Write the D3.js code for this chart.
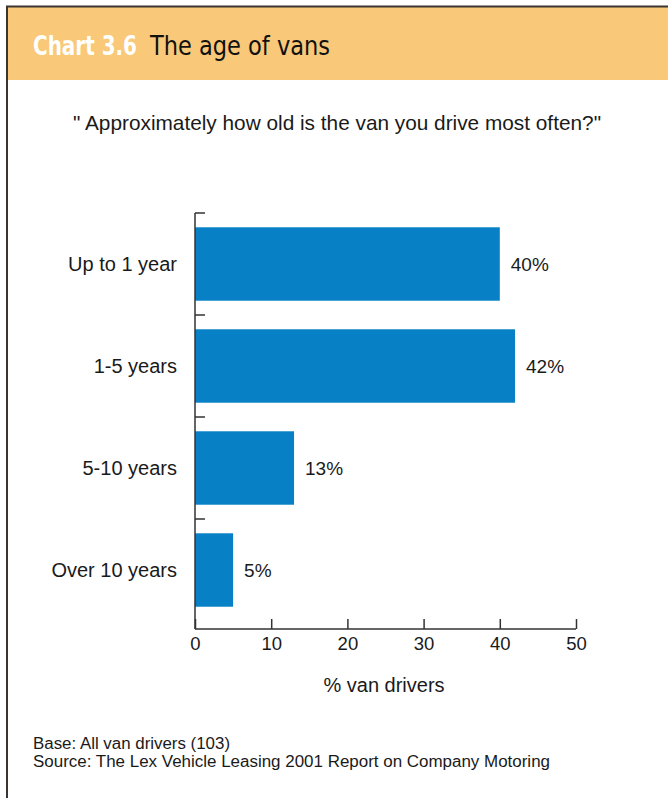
<!DOCTYPE html>
<html>
<head>
<meta charset="utf-8">
<script src="https://cdn.jsdelivr.net/npm/d3@7"></script>
<style>
  html, body { margin: 0; padding: 0; background: #ffffff; }
  svg { display: block; }
</style>
</head>
<body>
<svg id="chart" width="668" height="798"></svg>
<script>
// Survey data: age of the van driven most often
const categories = ["Up to 1 year", "1-5 years", "5-10 years", "Over 10 years"];
const values = [40, 42, 13, 5];
const xTicks = [0, 10, 20, 30, 40, 50];

const titleNumber = "Chart 3.6";
const titleText = "The age of vans";
const question = "\" Approximately how old is the van you drive most often?\"";
const axisTitle = "% van drivers";
const notes = [
  "Base: All van drivers (103)",
  "Source: The Lex Vehicle Leasing 2001 Report on Company Motoring"
];
const noteWidths = [197, 517];

const svg = d3.select("#chart");
const bodyFont = "'Liberation Sans', Arial, sans-serif";
const narrowFont = "'DejaVu Sans Condensed', 'Liberation Sans', sans-serif";
const ink = "#1a1a1a";

// Frame: header band with dark top and left rules
svg.append("rect").attr("x", 7).attr("y", 7).attr("width", 661).attr("height", 73).attr("fill", "#f9c878");
svg.append("line").attr("x1", 6).attr("x2", 668).attr("y1", 6.5).attr("y2", 6.5)
  .attr("stroke", "#3a3530").attr("stroke-width", 2);
svg.append("line").attr("x1", 7).attr("x2", 7).attr("y1", 6).attr("y2", 798)
  .attr("stroke", "#3a3530").attr("stroke-width", 2);

// Heading: condensed face, fitted to its set width
svg.append("text").attr("x", 33).attr("y", 55)
  .attr("font-family", narrowFont).attr("font-size", 27).attr("font-weight", "bold")
  .attr("fill", "#ffffff")
  .attr("textLength", 104).attr("lengthAdjust", "spacingAndGlyphs")
  .text(titleNumber);
svg.append("text").attr("x", 150).attr("y", 55)
  .attr("font-family", narrowFont).attr("font-size", 27)
  .attr("fill", "#111111")
  .attr("textLength", 180).attr("lengthAdjust", "spacingAndGlyphs")
  .text(titleText);

svg.append("text").attr("x", 337).attr("y", 130).attr("text-anchor", "middle")
  .attr("font-family", bodyFont).attr("font-size", 20.8).attr("fill", ink)
  .text(question);

// Scales
const x = d3.scaleLinear().domain([0, 50]).range([195, 576]);
const y = d3.scaleBand().domain(categories).range([213, 621]).paddingInner(0.28).paddingOuter(0.14);
const bandTop = d3.scaleBand().domain(categories).range([213, 621]);
const axisY = 629;

// Bars
svg.append("g").selectAll("rect").data(values).join("rect")
  .attr("x", x(0))
  .attr("y", (d, i) => y(categories[i]))
  .attr("width", d => x(d) - x(0))
  .attr("height", y.bandwidth())
  .attr("fill", "#0880c5");

// Value labels
svg.append("g").selectAll("text").data(values).join("text")
  .attr("x", d => x(d) + 11)
  .attr("y", (d, i) => y(categories[i]) + y.bandwidth() / 2 + 7)
  .attr("font-family", bodyFont).attr("font-size", 19).attr("fill", ink)
  .text(d => d + "%");

// Category labels
svg.append("g").selectAll("text").data(categories).join("text")
  .attr("x", 177)
  .attr("y", d => y(d) + y.bandwidth() / 2 + 7)
  .attr("text-anchor", "end")
  .attr("font-family", bodyFont).attr("font-size", 20).attr("fill", ink)
  .text(d => d);

// Vertical axis with ticks at band boundaries
const axisStroke = "#333333";
svg.append("line").attr("x1", x(0)).attr("x2", x(0)).attr("y1", 213).attr("y2", axisY)
  .attr("stroke", axisStroke).attr("stroke-width", 1.5);
svg.append("g").selectAll("line").data(categories).join("line")
  .attr("x1", x(0)).attr("x2", x(0) + 10)
  .attr("y1", d => bandTop(d)).attr("y2", d => bandTop(d))
  .attr("stroke", axisStroke).attr("stroke-width", 1.5);

// Horizontal axis
const xAxis = d3.axisBottom(x).tickValues(xTicks).tickSize(-10).tickPadding(8);
const gx = svg.append("g").attr("transform", `translate(0,${axisY})`).call(xAxis);
gx.select(".domain").attr("stroke", axisStroke).attr("stroke-width", 1.5)
  .attr("d", `M${x(0)},0H${x(50)}`);
gx.selectAll(".tick line").attr("stroke", axisStroke).attr("stroke-width", 1.5);
gx.selectAll(".tick text").attr("font-family", bodyFont).attr("font-size", 18.5)
  .attr("fill", ink).attr("dy", "0.71em");

svg.append("text").attr("x", 384).attr("y", 692).attr("text-anchor", "middle")
  .attr("font-family", bodyFont).attr("font-size", 20).attr("fill", ink)
  .text(axisTitle);

// Notes
svg.append("g").selectAll("text").data(notes).join("text")
  .attr("x", 33).attr("y", (d, i) => 749 + i * 18)
  .attr("font-family", bodyFont).attr("font-size", 16).attr("fill", ink)
  .attr("textLength", (d, i) => noteWidths[i]).attr("lengthAdjust", "spacingAndGlyphs")
  .text(d => d);
</script>
</body>
</html>
